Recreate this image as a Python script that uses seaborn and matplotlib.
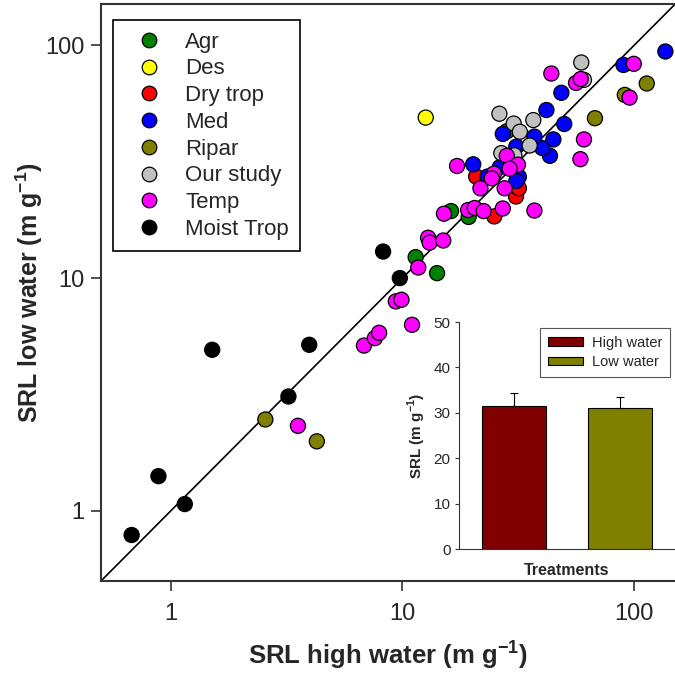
import numpy as np
import pandas as pd
import seaborn as sns
import matplotlib.pyplot as plt
from matplotlib.lines import Line2D
from matplotlib.patches import Patch
from matplotlib.ticker import NullLocator

# SRL (m g-1) at high water (x) and low water (y), one pair of lists per group
agr_high = [11.4, 14.1, 16.2, 19.3, 28.2]
agr_low = [12.3, 10.5, 19.4, 18.3, 42.7]
des_high = [12.6]
des_low = [48.9]
drytrop_high = [20.8, 24.9, 30.9, 31.8]
drytrop_low = [27.3, 18.4, 22.4, 24.3]
med_high = [136.3, 89.9, 48.5, 41.8, 49.9, 44.8, 43.3, 40.1, 37.1, 31.0, 27.1, 20.2, 26.3, 23.3, 31.8, 31.0]
med_low = [94.0, 82.3, 62.5, 52.7, 45.9, 39.4, 33.5, 36.2, 40.5, 36.7, 41.6, 30.8, 29.9, 27.3, 27.2, 26.1]
ripar_high = [2.56, 4.27, 67.7, 91.1, 113.3]
ripar_low = [2.47, 1.99, 48.6, 61.2, 68.5]
ours_high = [26.2, 30.2, 32.1, 36.7, 35.4, 26.7, 30.4, 59.1, 60.7]
ours_low = [50.8, 46.1, 42.5, 47.7, 37.1, 34.4, 33.7, 84.3, 71.0]
temp_high = [43.9, 56.1, 58.8, 99.6, 95.5, 60.7, 58.6, 17.2, 28.2, 31.5, 29.0, 24.8, 24.3, 21.7,
             27.6, 15.1, 19.2, 20.5, 22.4, 27.1, 37.1, 12.9, 13.1, 15.0, 11.7, 9.36, 9.90, 11.0,
             6.82, 7.60, 7.93, 3.54]
temp_low = [75.6, 68.9, 71.6, 83.2, 59.6, 39.4, 32.4, 30.3, 33.5, 30.7, 29.5, 28.1, 26.8, 24.3,
            24.3, 18.9, 19.6, 20.0, 19.4, 19.9, 19.5, 14.9, 14.2, 14.5, 11.1, 7.94, 8.07, 6.30,
            5.13, 5.52, 5.82, 2.32]
moist_high = [0.678, 0.885, 1.15, 1.51, 3.22, 3.96, 8.25, 9.74]
moist_low = [0.788, 1.41, 1.07, 4.92, 3.10, 5.17, 13.0, 10.0]

groups = ["Agr", "Des", "Dry trop", "Med", "Ripar", "Our study", "Temp", "Moist Trop"]
colors = ["#008000", "#ffff00", "#ff0000", "#0000ff", "#808000", "#c0c0c0", "#ff00ff", "#000000"]

# inset: mean SRL per treatment
treatments = ["High water", "Low water"]
srl_mean = [31.5, 31.0]
srl_err = [2.9, 2.5]
bar_colors = ["#800000", "#808000"]

highs = [agr_high, des_high, drytrop_high, med_high, ripar_high, ours_high, temp_high, moist_high]
lows = [agr_low, des_low, drytrop_low, med_low, ripar_low, ours_low, temp_low, moist_low]
df = pd.concat([pd.DataFrame({"high": h, "low": l, "group": g})
                for g, h, l in zip(groups, highs, lows)], ignore_index=True)

sns.set_style("ticks")
plt.rcParams["font.family"] = ["Liberation Sans", "DejaVu Sans"]
plt.rcParams["mathtext.fontset"] = "custom"
plt.rcParams["mathtext.rm"] = "Liberation Sans"
plt.rcParams["mathtext.bf"] = "Liberation Sans:bold"

spine_col = "#333333"
fig = plt.figure(figsize=(6.75, 6.73), dpi=100)
ax = fig.add_axes([0.1496, 0.1367, 0.8504, 0.857])

lims = [0.5, 150]
ax.plot(lims, lims, color="black", lw=1.2, zorder=2)
sns.scatterplot(data=df, x="high", y="low", hue="group", hue_order=groups,
                palette=dict(zip(groups, colors)), s=118, edgecolor="black",
                linewidth=0.9, legend=False, ax=ax, zorder=3)
ax.set_xscale("log")
ax.set_yscale("log")
ax.set_xlim(lims)
ax.set_ylim(lims)
ax.set_xticks([1, 10, 100], ["1", "10", "100"])
ax.set_yticks([1, 10, 100], ["1", "10", "100"])
ax.xaxis.set_minor_locator(NullLocator())
ax.yaxis.set_minor_locator(NullLocator())
ax.tick_params(labelsize=17, length=7, width=1.2, color=spine_col, pad=9)
ax.tick_params(axis="y", pad=5)
for s in ["left", "bottom", "top"]:
    ax.spines[s].set_linewidth(1.5)
    ax.spines[s].set_color(spine_col)
ax.spines["right"].set_visible(False)
ax.set_xlabel(r"SRL high water (m g$^{\mathbf{-1}}$)", fontsize=18.5, fontweight="bold", labelpad=9)
ax.set_ylabel(r"SRL low water (m g$^{\mathbf{-1}}$)", fontsize=18, fontweight="bold", labelpad=0)

handles = [Line2D([], [], marker="o", ls="none", markersize=10.5, markerfacecolor=c,
                  markeredgecolor="black", markeredgewidth=0.9) for c in colors]
leg = ax.legend(handles, groups, loc="upper left", bbox_to_anchor=(0.021, 0.972),
                borderaxespad=0, fontsize=16, frameon=True, fancybox=False,
                framealpha=1, edgecolor="black", labelspacing=0.26, borderpad=0.5,
                handlelength=2.2, handletextpad=0.55)
leg.get_frame().set_linewidth(1.2)

# inset bar chart
ax_in = fig.add_axes([0.68, 0.1842, 0.32, 0.3373])
ax_in.set_facecolor("white")
sns.barplot(x=treatments, y=srl_mean, hue=treatments, palette=bar_colors, saturation=1,
            width=0.6, edgecolor="black", linewidth=0.8, errorbar=None, legend=False, ax=ax_in)
ax_in.errorbar(range(len(treatments)), srl_mean, yerr=[np.zeros(len(srl_err)), srl_err],
               fmt="none", ecolor="black", elinewidth=0.8, capsize=3, capthick=0.8)
ax_in.set_xlim(-0.52, 1.52)
ax_in.set_ylim(0, 50)
ax_in.set_yticks(range(0, 51, 10))
ax_in.set_xticks([])
ax_in.tick_params(axis="y", labelsize=11, length=3, width=0.8, color=spine_col, pad=3)
for s in ["left", "bottom"]:
    ax_in.spines[s].set_linewidth(0.8)
    ax_in.spines[s].set_color(spine_col)
ax_in.spines["top"].set_visible(False)
ax_in.spines["right"].set_visible(False)
ax_in.set_xlabel("Treatments", fontsize=11.5, fontweight="bold", labelpad=10)
ax_in.set_ylabel(r"SRL (m g$^{\mathbf{-1}}$)", fontsize=11, fontweight="bold", labelpad=4)
bar_handles = [Patch(facecolor=c, edgecolor="black", linewidth=0.8) for c in bar_colors]
leg2 = ax_in.legend(bar_handles, treatments, loc="upper left", bbox_to_anchor=(0.375, 0.974),
                    borderaxespad=0, fontsize=10.5, fancybox=False, framealpha=1,
                    edgecolor="#555555", handlelength=2.4, handleheight=0.55,
                    handletextpad=0.6, labelspacing=0.35, borderpad=0.55)
leg2.get_frame().set_linewidth(0.8)

fig.savefig("out.png", dpi=100)
